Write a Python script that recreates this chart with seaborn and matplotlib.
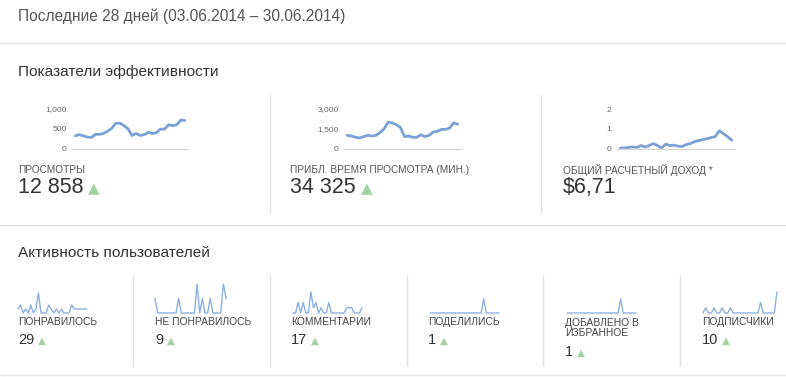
import numpy as np
import pandas as pd
import seaborn as sns
from matplotlib import pyplot as plt
from matplotlib.lines import Line2D

# --- data (28 days) ---
days = list(range(28))

views = [320, 350, 320, 290, 280, 360, 360, 380, 440, 510, 640, 640, 580, 500,
         330, 380, 330, 350, 410, 380, 400, 490, 490, 600, 580, 600, 720, 710]
watch_minutes = [1000, 950, 850, 800, 900, 1000, 950, 1000, 1200, 1500, 2000, 1950, 1800, 1600,
                 900, 950, 850, 850, 1050, 900, 1000, 1250, 1300, 1450, 1450, 1550, 1950, 1850]
revenue = [0.02, 0.03, 0.05, 0.08, 0.05, 0.15, 0.08, 0.15, 0.25, 0.15, 0.03, 0.22, 0.15, 0.17,
           0.12, 0.10, 0.20, 0.25, 0.35, 0.40, 0.45, 0.50, 0.55, 0.60, 0.90, 0.75, 0.60, 0.42]

likes = [1, 2, 0, 1, 0, 2, 0, 1, 5, 0, 0, 0, 2, 1, 0, 1, 0, 1, 0, 0, 0, 2, 1, 1, 1, 1, 1, 1]
dislikes = [1, 0, 0, 0, 0, 0, 0, 0, 0, 1, 0, 0, 0, 0, 0, 0, 2, 0, 1, 0, 0, 1, 0, 0, 0, 0, 2, 1]
comments = [0, 0, 2, 0, 2, 0, 0, 4, 1, 2, 0, 1, 0, 0, 2, 0, 0, 0, 0, 0, 0, 1, 1, 1, 0, 0, 0, 1]
shares = [0] * 21 + [1] + [0] * 6
favorites = [0] * 21 + [1] + [0] * 6
subscribers = [0, 1, 0, 0, 1, 0, 0, 1, 0, 0, 1, 0, 0, 0, 0, 0, 0, 0, 0, 0, 0, 2, 0, 0, 0, 0, 0, 4]

top_labels = ["ПРОСМОТРЫ", "ПРИБЛ. ВРЕМЯ ПРОСМОТРА (МИН.)", "ОБЩИЙ РАСЧЕТНЫЙ ДОХОД *"]
top_values = ["12 858", "34 325", "$6,71"]
top_up = [True, True, False]
top_ticks = [[0, 500, 1000], [0, 1500, 3000], [0, 1, 2]]

low_labels = ["ПОНРАВИЛОСЬ", "НЕ ПОНРАВИЛОСЬ", "КОММЕНТАРИИ", "ПОДЕЛИЛИСЬ",
              "ДОБАВЛЕНО В\nИЗБРАННОЕ", "ПОДПИСЧИКИ"]
low_values = ["29", "9", "17", "1", "1", "10"]

# --- layout helpers (pixel coordinates, origin top-left) ---
W, H = 786, 377
sns.set_style("white")
plt.rcParams["font.family"] = ["Liberation Sans", "DejaVu Sans"]

fig = plt.figure(figsize=(W / 100, H / 100), dpi=100)
fig.patch.set_facecolor("white")
SEP = "#e3e3e3"
LINE_TOP = "#7ba1d6"
LINE_LOW = "#8db0e2"
GREEN = "#a3d3a3"


def fx(x):
    return x / W


def fy(y):
    return 1 - y / H


def hline(y, x0=0, x1=W):
    fig.add_artist(Line2D([fx(x0), fx(x1)], [fy(y), fy(y)], color=SEP, lw=1))


def vline(x, y0, y1):
    fig.add_artist(Line2D([fx(x), fx(x)], [fy(y0), fy(y1)], color=SEP, lw=1))


def txt(x, y, s, size, color="#333333", **kw):
    return fig.text(fx(x), fy(y), s, fontsize=size, color=color, va="center", ha="left", **kw)


renderer = fig.canvas.get_renderer()


def value_with_arrow(x, y, s, size, tri_size, up=True):
    t = txt(x, y, s, size, "#333333")
    if up:
        bb = t.get_window_extent(renderer)
        x_end = bb.x1 * W / fig.bbox.width
        fig.text(fx(x_end + tri_size * 0.45), fy(y + 1), "\u25b2", fontsize=tri_size,
                 color=GREEN, va="center", ha="left", family="DejaVu Sans")


def axes_px(x0, x1, ytop, ybot):
    return fig.add_axes([fx(x0), fy(ybot), (x1 - x0) / W, (ybot - ytop) / H])


# header
txt(18, 16, "Последние 28 дней (03.06.2014 – 30.06.2014)", 11.2, "#555555")
hline(43)
txt(18, 72, "Показатели эффективности", 11.1, "#333333")

# top sparklines
top_series = [views, watch_minutes, revenue]
top_box = [(72, 188), (344, 461), (617, 735)]
label_x = [18, 290, 563]
for i, series in enumerate(top_series):
    x0, x1 = top_box[i]
    ax = axes_px(x0, x1, 109, 148.5)
    df = pd.DataFrame({"day": days, "value": series})
    sns.lineplot(data=df, x="day", y="value", ax=ax, color=LINE_TOP, lw=2)
    ax.set_xlim(-0.8, 27.8)
    ax.set_ylim(0, top_ticks[i][-1])
    ax.set_yticks(top_ticks[i])
    ax.set_yticklabels([f"{v:,}" for v in top_ticks[i]])
    ax.set_xticks([])
    ax.set_xlabel("")
    ax.set_ylabel("")
    ax.tick_params(axis="y", length=0, pad=4, labelsize=6, labelcolor="#666666")
    for side in ["top", "right", "left"]:
        ax.spines[side].set_visible(False)
    ax.spines["bottom"].set_color("#d8d8d8")
    ax.spines["bottom"].set_linewidth(1)
    ax.patch.set_alpha(0)
    for ln in ax.lines:
        ln.set_clip_on(False)
    txt(label_x[i], 170, top_labels[i], 7.3, "#555555")
    value_with_arrow(label_x[i], 188, top_values[i], 15.5, 11, top_up[i])

vline(270, 95, 213)
vline(541, 95, 213)
hline(225)
txt(18, 253, "Активность пользователей", 11.1, "#333333")

# lower sparklines
low_series = [likes, dislikes, comments, shares, favorites, subscribers]
low_box = [(18, 87), (155, 226), (293, 362), (430, 499), (567, 636), (703, 777)]
low_top = [293, 284, 292, 299, 299, 292]
low_x = [18, 155, 291, 428, 565, 702]
for i, series in enumerate(low_series):
    x0, x1 = low_box[i]
    ax = axes_px(x0, x1, low_top[i], 313)
    df = pd.DataFrame({"day": days, "value": series})
    sns.lineplot(data=df, x="day", y="value", ax=ax, color=LINE_LOW, lw=1)
    ax.set_xlim(0, 27)
    ax.set_ylim(0, max(series))
    ax.axis("off")
    for ln in ax.lines:
        ln.set_clip_on(False)
    lab = low_labels[i]
    txt(low_x[i], 322 if "\n" not in lab else 328, lab, 7.4, "#444444", linespacing=1.05)
    vy = 340 if "\n" not in lab else 352
    value_with_arrow(low_x[i], vy, low_values[i], 10.5, 7.5, True)

for x in [133, 270, 407, 543, 680]:
    vline(x, 275, 366)
hline(375)

fig.savefig("out.png", dpi=100)
